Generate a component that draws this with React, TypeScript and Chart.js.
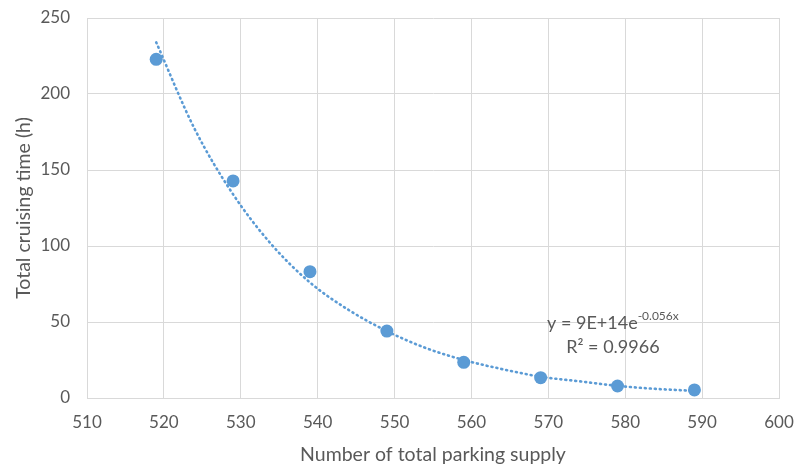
import React, { useEffect, useRef } from "react";
import { Chart, registerables } from "chart.js";
Chart.register(...registerables);

const supplyValues = [519, 529, 539, 549, 559, 569, 579, 589];
const cruisingHours = [222.8, 142.8, 83.1, 44, 23.5, 13.4, 7.9, 5.3];
const trendX = [519, 524, 529, 534, 539, 544, 549, 554, 559, 564, 569, 574, 579, 584, 589];
const trendY = [234, 177, 134, 101, 76, 58, 44, 33, 25, 19, 14, 11, 8, 6, 4.7];
const xTicks = [510, 520, 530, 540, 550, 560, 570, 580, 590, 600];
const yTicks = [0, 50, 100, 150, 200, 250];
const equationText = "y = 9E+14e";
const equationExp = "-0.056x";
const r2Text = "R² = 0.9966";

const FONT = "Lato, 'Open Sans', sans-serif";
const BLUE = "#5B9BD5";
const GREY = "#595959";

const equationPlugin = {
  id: "equation",
  afterDatasetsDraw(chart: any) {
    const ctx = chart.ctx;
    const xs = chart.scales.x;
    const ys = chart.scales.y;
    const cx = xs.getPixelForValue(578.4);
    const y1 = ys.getPixelForValue(49.3);
    const y2 = ys.getPixelForValue(33.5);
    ctx.save();
    ctx.fillStyle = GREY;
    ctx.textBaseline = "middle";
    ctx.font = `18px ${FONT}`;
    const w1 = ctx.measureText(equationText).width;
    ctx.font = `12px ${FONT}`;
    const w2 = ctx.measureText(equationExp).width;
    const start = cx - (w1 + w2) / 2;
    ctx.font = `18px ${FONT}`;
    ctx.textAlign = "left";
    ctx.fillText(equationText, start, y1);
    ctx.font = `12px ${FONT}`;
    ctx.fillText(equationExp, start + w1, y1 - 7);
    ctx.font = `18px ${FONT}`;
    ctx.textAlign = "center";
    ctx.fillText(r2Text, cx, y2);
    ctx.restore();
  },
};

export default function App() {
  const ref = useRef<HTMLCanvasElement>(null);
  useEffect(() => {
    if (!ref.current) return;
    const chart = new Chart(ref.current, {
      type: "scatter",
      data: {
        datasets: [
          {
            data: supplyValues.map((x, i) => ({ x, y: cruisingHours[i] })),
            backgroundColor: BLUE,
            borderColor: BLUE,
            pointRadius: 6.5,
            pointHoverRadius: 6.5,
            borderWidth: 0,
          },
          {
            data: trendX.map((x, i) => ({ x, y: trendY[i] })),
            showLine: true,
            borderColor: BLUE,
            borderWidth: 2.6,
            borderDash: [1, 4],
            borderCapStyle: "round",
            pointRadius: 0,
            cubicInterpolationMode: "monotone",
          } as any,
        ],
      },
      options: {
        responsive: false,
        animation: false,
        layout: { padding: { left: 0, right: 0, top: 0, bottom: 0 } },
        plugins: { legend: { display: false }, tooltip: { enabled: false } },
        scales: {
          x: {
            type: "linear",
            min: 510,
            max: 600,
            afterBuildTicks: (s: any) => {
              s.ticks = xTicks.map((v) => ({ value: v }));
            },
            afterFit: (s: any) => {
              s.height = 68;
              s.paddingRight = 18;
            },
            grid: { color: "#D9D9D9", lineWidth: 1, drawTicks: false },
            border: { color: "#D9D9D9" },
            ticks: { color: GREY, font: { family: FONT, size: 17 }, padding: 14 },
            title: {
              display: true,
              text: "Number of total parking supply",
              color: GREY,
              font: { family: FONT, size: 19.5 },
              padding: { top: 4, bottom: 0 },
            },
          },
          y: {
            type: "linear",
            min: 0,
            max: 250,
            afterBuildTicks: (s: any) => {
              s.ticks = yTicks.map((v) => ({ value: v }));
            },
            afterFit: (s: any) => {
              s.width = 87;
              s.paddingTop = 18;
            },
            grid: { color: "#D9D9D9", lineWidth: 1, drawTicks: false },
            border: { color: "#D9D9D9" },
            ticks: { color: GREY, font: { family: FONT, size: 17 }, padding: 17 },
            title: {
              display: true,
              text: "Total cruising time (h)",
              color: GREY,
              font: { family: FONT, size: 19.5 },
              padding: { top: 12, bottom: 0 },
            },
          },
        },
      },
      plugins: [equationPlugin],
    });
    return () => chart.destroy();
  }, []);
  return (
    <div style={{ position: "fixed", left: 0, top: 0, width: 797, height: 466, background: "#fff" }}>
      <canvas ref={ref} width={797} height={466} />
    </div>
  );
}
